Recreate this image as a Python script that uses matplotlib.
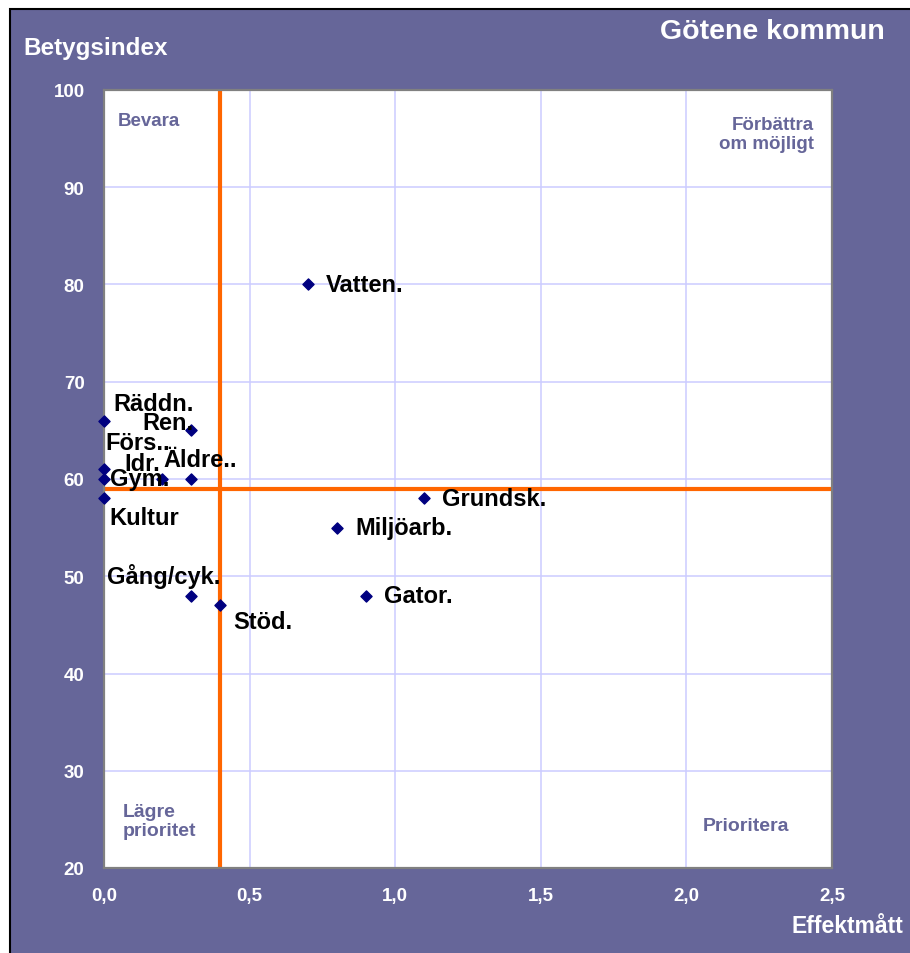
import matplotlib
matplotlib.use("Agg")
import matplotlib.pyplot as plt
from matplotlib.patches import Rectangle

# ---- data ----
names = ["Vatten.", "Räddn.", "Ren.", "Förs..", "Gym.", "Idr.", "Äldre..",
         "Kultur", "Grundsk.", "Miljöarb.", "Gator.", "Gång/cyk.", "Stöd."]
effekt = [0.7, 0.0, 0.3, 0.0, 0.0, 0.2, 0.3, 0.0, 1.1, 0.8, 0.9, 0.3, 0.4]
betyg = [80, 66, 65, 61, 60, 60, 60, 58, 58, 55, 48, 48, 47]
x_ref = 0.4
y_ref = 59
xticks = [0.0, 0.5, 1.0, 1.5, 2.0, 2.5]
xtick_labels = ["0,0", "0,5", "1,0", "1,5", "2,0", "2,5"]
yticks = [20, 30, 40, 50, 60, 70, 80, 90, 100]
title = "Götene kommun"
xlabel = "Effektmått"
ylabel = "Betygsindex"

# label offsets in pixels (dx, dy up)
offsets = {
    "Vatten.": (18, 0), "Räddn.": (9, 17), "Ren.": (-49, 8), "Förs..": (1, 27),
    "Gym.": (6, 0), "Idr.": (-38, 15), "Äldre..": (-28, 19), "Kultur": (5, -19),
    "Grundsk.": (18, 0), "Miljöarb.": (18, 0), "Gator.": (18, 0),
    "Gång/cyk.": (-84, 20), "Stöd.": (13, -16),
}

plt.rcParams['font.family'] = ['Liberation Sans', 'DejaVu Sans']
BG = "#666699"

fig = plt.figure(figsize=(9.1, 9.54), dpi=100)
fig.patch.set_facecolor("white")
W, H = 910, 954
fig.patches.append(Rectangle((10 / W, -0.05), 1.0, (H - 10) / H + 0.05,
                             transform=fig.transFigure, facecolor=BG,
                             edgecolor="black", linewidth=1.5, zorder=-10,
                             clip_on=False))

ax = fig.add_axes([104 / W, 1 - 869 / H, (832 - 104) / W, (869 - 91) / H])
ax.set_facecolor("white")
ax.set_xlim(0, 2.5)
ax.set_ylim(20, 100)
ax.set_xticks(xticks)
ax.set_xticklabels(xtick_labels)
ax.set_yticks(yticks)
ax.grid(True, color="#ccccff", linewidth=1.1, zorder=0)
ax.set_axisbelow(True)
for s in ax.spines.values():
    s.set_color("#808080")
    s.set_linewidth(1.6)
ax.tick_params(length=0, colors="white", labelsize=13.5, pad=14)
for lab in ax.get_xticklabels() + ax.get_yticklabels():
    lab.set_fontweight("bold")

ax.axvline(x_ref, color="#ff6600", linewidth=3, zorder=2)
ax.axhline(y_ref, color="#ff6600", linewidth=3, zorder=2)

ax.scatter(effekt, betyg, marker="D", s=32, color="#000080", zorder=4,
           clip_on=False)
for n, x, y in zip(names, effekt, betyg):
    dx, dy = offsets[n]
    ax.annotate(n, (x, y), xytext=(dx, dy), textcoords="offset pixels",
                ha="left", va="center", fontsize=17, fontweight="bold",
                color="black", zorder=5)

qc = "#666699"
ax.text(14 / 728, 1 - 31 / 778, "Bevara", transform=ax.transAxes, ha="left",
        va="center", fontsize=13.5, fontweight="bold", color=qc)
ax.text(1 - 18 / 728, 1 - 44 / 778, "Förbättra\nom möjligt", transform=ax.transAxes,
        ha="right", va="center", fontsize=13.5, fontweight="bold", color=qc,
        multialignment="right", linespacing=1.1)
ax.text(19 / 728, 47 / 778, "Lägre\nprioritet", transform=ax.transAxes,
        ha="left", va="center", fontsize=14, fontweight="bold", color=qc,
        linespacing=1.1)
ax.text(1 - 43 / 728, 42 / 778, "Prioritera", transform=ax.transAxes,
        ha="right", va="center", fontsize=14, fontweight="bold", color=qc)

fig.text(885 / W, 1 - 32 / H, title, ha="right", va="center", fontsize=20.5,
         fontweight="bold", color="white")
fig.text(23 / W, 1 - 48 / H, ylabel, ha="left", va="center", fontsize=17.5,
         fontweight="bold", color="white")
fig.text(903 / W, 1 - 927 / H, xlabel, ha="right", va="center", fontsize=16.5,
         fontweight="bold", color="white")

fig.savefig("out.png", dpi=100, facecolor=fig.get_facecolor())
